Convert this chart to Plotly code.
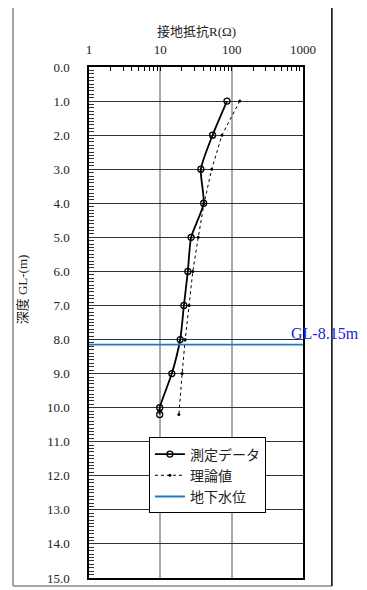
import plotly.graph_objects as go

depth_meas = [1.0, 2.0, 3.0, 4.0, 5.0, 6.0, 7.0, 8.0, 9.0, 10.0, 10.2]
r_meas = [86, 54, 37, 40.5, 27, 24.3, 21.4, 19, 14.5, 9.8, 9.8]
depth_theo = [1.0, 2.0, 3.0, 4.0, 5.0, 6.0, 7.0, 8.0, 9.0, 10.2]
r_theo = [130, 73, 52.5, 41, 34, 28.5, 25.3, 22.3, 20.2, 18.2]
gw_depth = 8.15
gw_label = "GL-8.15m"
x_ticks = [1, 10, 100, 1000]

FONT = "Liberation Serif, Noto Sans CJK JP, serif"

fig = go.Figure()
fig.add_trace(go.Scatter(
    x=r_meas, y=depth_meas, name="測定データ", mode="lines+markers",
    line=dict(color="black", width=1.8, shape="spline", smoothing=0.6),
    marker=dict(symbol="circle-open", size=6, color="black", line=dict(width=1.3))))
fig.add_trace(go.Scatter(
    x=r_theo, y=depth_theo, name="理論値", mode="lines+markers",
    line=dict(color="black", width=1, dash="dot"),
    marker=dict(symbol="circle", size=3, color="black")))
fig.add_trace(go.Scatter(
    x=[1, 1000], y=[gw_depth, gw_depth], name="地下水位", mode="lines",
    line=dict(color="#1f7ac8", width=1.8)))

fig.add_annotation(x=1, xref="paper", y=gw_depth, yref="y", text=gw_label,
                   showarrow=False, xanchor="left", yanchor="bottom", xshift=-14, yshift=1,
                   font=dict(family=FONT, size=16, color="#2020e0"))

fig.add_annotation(x=0.5, xref="paper", y=1, yref="paper", text="接地抵抗R(Ω)",
                   showarrow=False, xanchor="center", yanchor="bottom", yshift=26,
                   font=dict(family=FONT, size=13, color="#222"))
fig.add_annotation(x=-0.313, xref="paper", y=0.565, yref="paper", text="深度 GL-(m)",
                   showarrow=False, textangle=-90, xanchor="center", yanchor="middle",
                   font=dict(family=FONT, size=13, color="#222"))

# outer frame
X0, X1, Y0, Y1 = -0.355, 1.135, -0.0156, 1.124
fig.add_shape(type="line", xref="paper", yref="paper", x0=X0, x1=X0, y0=Y0, y1=Y1,
              line=dict(color="#888", width=1.5))
fig.add_shape(type="line", xref="paper", yref="paper", x0=X0, x1=X1, y0=Y1, y1=Y1,
              line=dict(color="#888", width=1.5))
fig.add_shape(type="line", xref="paper", yref="paper", x0=X0, x1=X1, y0=Y0, y1=Y0,
              line=dict(color="#888", width=1.5))
fig.add_shape(type="line", xref="paper", yref="paper", x0=X1, x1=X1, y0=Y0, y1=Y1,
              line=dict(color="black", width=1.5))

fig.update_xaxes(type="log", range=[0, 3], side="top", tickvals=x_ticks,
                 ticktext=[str(v) for v in x_ticks], ticks="inside", ticklen=4,
                 tickcolor="black", ticklabelstandoff=6,
                 showgrid=True, gridcolor="#aaa", gridwidth=1.5,
                 showline=True, linecolor="black", linewidth=1.5, mirror=True,
                 minor=dict(ticks="inside", ticklen=4, tickcolor="black", showgrid=False,
                            tickmode="array",
                            tickvals=[v * m for m in (1, 10, 100) for v in range(2, 10)]),
                 tickfont=dict(family=FONT, size=13, color="#222"), zeroline=False)
fig.update_yaxes(range=[15, 0], dtick=1, tick0=0, tickformat=".1f", ticks="inside",
                 ticklen=5, tickcolor="#333", ticklabelstandoff=15,
                 showgrid=True, gridcolor="#333", gridwidth=1.2,
                 showline=True, linecolor="black", linewidth=1.5, mirror=True,
                 minor=dict(ticks="inside", ticklen=5, tickcolor="#333", tickwidth=1,
                            dtick=0.1, showgrid=False),
                 tickfont=dict(family=FONT, size=13, color="#222"), zeroline=False)

fig.update_layout(
    width=367, height=590,
    margin=dict(l=81, r=72, t=59, b=17),
    paper_bgcolor="white", plot_bgcolor="white",
    showlegend=True,
    legend=dict(x=0.28, y=0.275, xanchor="left", yanchor="top",
                bgcolor="white", bordercolor="black", borderwidth=1,
                font=dict(family=FONT, size=14, color="#222"),
                itemwidth=30, tracegroupgap=0),
)

fig.write_html("out.html")
